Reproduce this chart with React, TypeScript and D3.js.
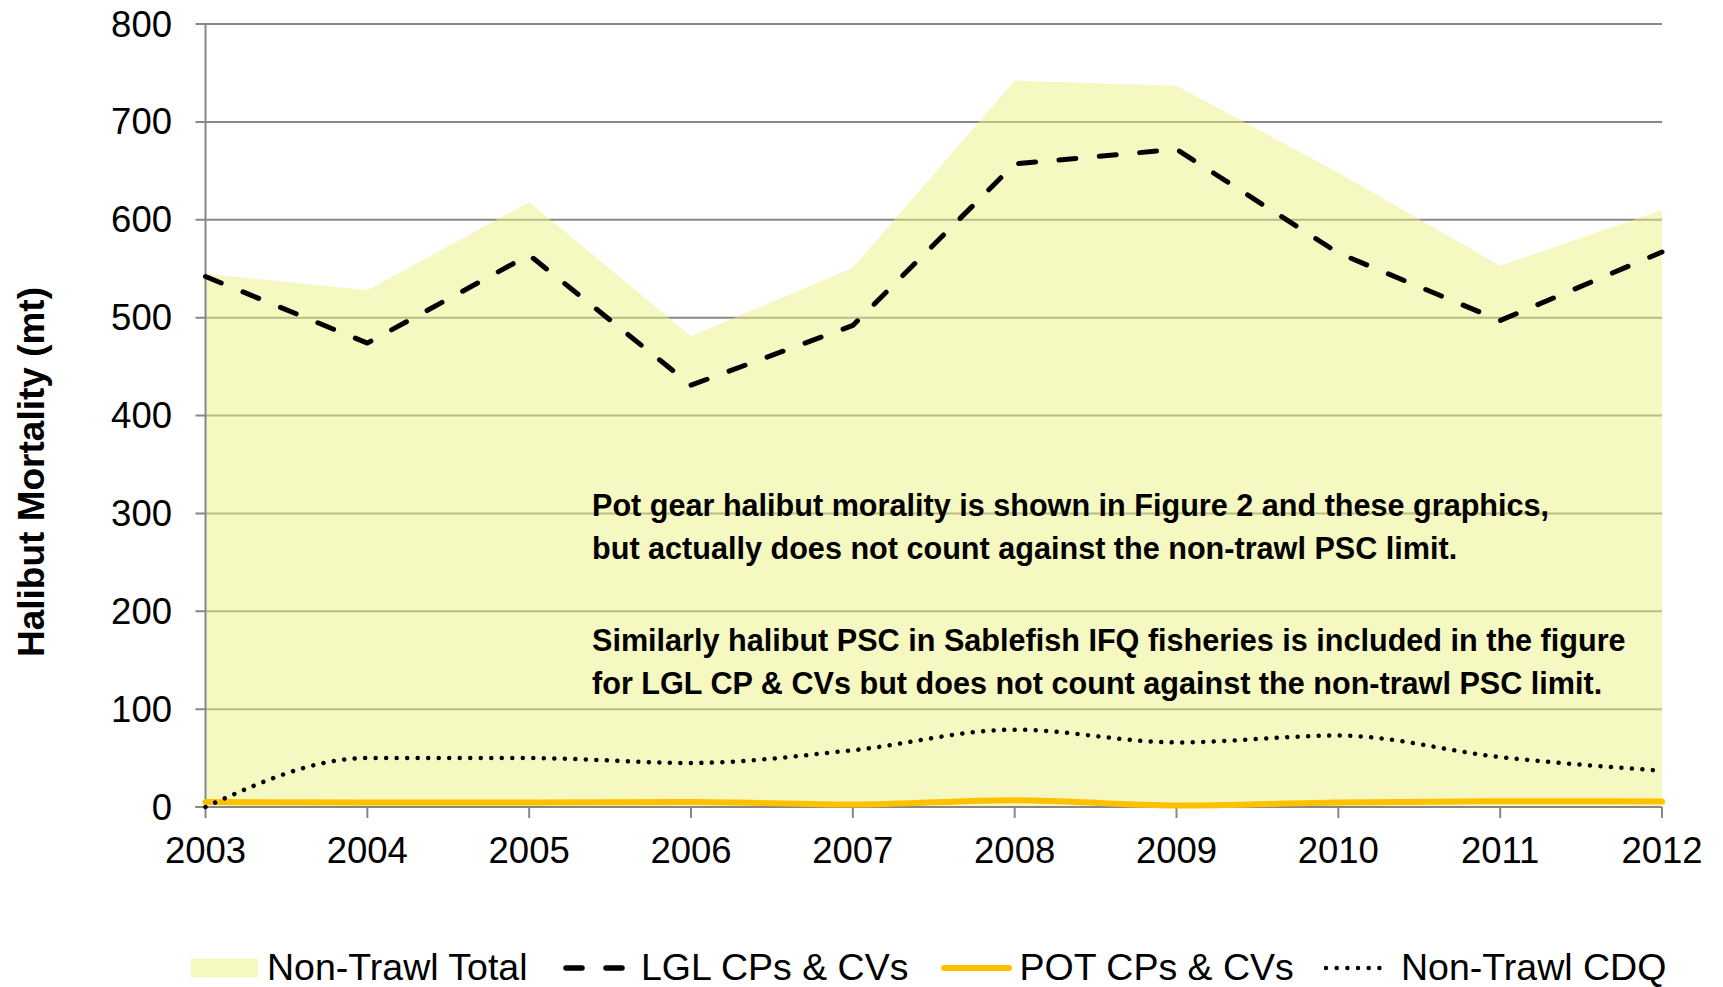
import React from 'react';
import * as d3 from 'd3';

// ---- data ----
const years = [2003, 2004, 2005, 2006, 2007, 2008, 2009, 2010, 2011, 2012];
const nonTrawlTotal = [545, 528, 618, 481, 551, 742, 737, 648, 553, 610];
const lglCPsCVs = [542, 474, 564, 431, 492, 657, 672, 566, 497, 567];
const potCPsCVs = [5, 4.5, 4.5, 5, 2.5, 7, 1.5, 4.5, 6, 5.5];
const nonTrawlCDQ = [0, 50, 50, 45, 58, 79, 66, 73, 51, 37];
const yTicks = [0, 100, 200, 300, 400, 500, 600, 700, 800];
const legendLabels = ['Non-Trawl Total', 'LGL CPs & CVs', 'POT CPs & CVs', 'Non-Trawl CDQ'];
const noteLines = [
  'Pot gear halibut morality is shown in Figure 2 and these graphics,',
  'but actually does not count against the non-trawl PSC limit.',
  'Similarly halibut PSC in Sablefish IFQ fisheries is included in the figure',
  'for LGL CP & CVs but does not count against the non-trawl PSC limit.',
];
const yTitle = 'Halibut Mortality (mt)';

const W = 1723;
const H = 987;
const FONT = '"Liberation Sans", Arial, Helvetica, sans-serif';
const AREA_FILL = 'rgb(235,242,130)';
const AREA_OPACITY = 0.5;
const GRID = '#878787';
const POT_COLOR = '#FFC000';

export default function App() {
  const x = d3.scalePoint<number>().domain(years).range([205.5, 1662]);
  const y = d3.scaleLinear().domain([0, 800]).range([807, 24]);

  const idx = years.map((_, i) => i);
  const area = d3
    .area<number>()
    .x((i) => x(years[i]) as number)
    .y0(y(0))
    .y1((i) => y(nonTrawlTotal[i]));
  const straight = (vals: number[]) =>
    d3
      .line<number>()
      .x((i) => x(years[i]) as number)
      .y((i) => y(vals[i]))(idx) as string;
  const smooth = (vals: number[]) =>
    d3
      .line<number>()
      .curve(d3.curveMonotoneX)
      .x((i) => x(years[i]) as number)
      .y((i) => y(vals[i]))(idx) as string;

  const x0 = x(years[0]) as number;
  const x1 = x(years[years.length - 1]) as number;

  const noteY = [516, 559, 651, 694];
  const legendY = 968;
  const legendBase = 980;
  const LF = 37.5;

  return (
    <svg
      width={W}
      height={H}
      style={{ position: 'absolute', left: 0, top: 0, background: '#fff' }}
      fontFamily={FONT}
    >
      {/* gridlines */}
      {yTicks.map((t) => (
        <line key={'g' + t} x1={x0 - 10} x2={x1} y1={y(t)} y2={y(t)} stroke={GRID} strokeWidth={2} />
      ))}
      {/* area */}
      <path d={area(idx) as string} fill={AREA_FILL} fillOpacity={AREA_OPACITY} />
      {/* axes */}
      <line x1={x0} x2={x0} y1={y(800)} y2={y(0)} stroke={GRID} strokeWidth={2} />
      <line x1={x0 - 10} x2={x1} y1={y(0)} y2={y(0)} stroke={GRID} strokeWidth={2} />
      {years.map((yr) => (
        <line
          key={'xt' + yr}
          x1={x(yr) as number}
          x2={x(yr) as number}
          y1={y(0)}
          y2={y(0) + 11}
          stroke={GRID}
          strokeWidth={2}
        />
      ))}
      {/* y tick labels */}
      {yTicks.map((t) => (
        <text key={'yl' + t} x={172} y={y(t) + 12.5} textAnchor="end" fontSize={36.5} fill="#000">
          {t}
        </text>
      ))}
      {/* x tick labels */}
      {years.map((yr) => (
        <text key={'xl' + yr} x={x(yr) as number} y={863} textAnchor="middle" fontSize={36.5} fill="#000">
          {yr}
        </text>
      ))}
      {/* y title */}
      <text
        transform={`translate(44,${472}) rotate(-90)`}
        textAnchor="middle"
        fontSize={37}
        fontWeight="bold"
        fill="#000"
      >
        {yTitle}
      </text>

      {/* series */}
      <path d={smooth(potCPsCVs)} fill="none" stroke={POT_COLOR} strokeWidth={6} strokeLinecap="round" />
      <path
        d={smooth(nonTrawlCDQ)}
        fill="none"
        stroke="#000"
        strokeWidth={4.5}
        strokeLinecap="round"
        strokeDasharray="0.01 10.5"
      />
      <path
        d={straight(lglCPsCVs)}
        fill="none"
        stroke="#000"
        strokeWidth={5}
        strokeLinecap="round"
        strokeLinejoin="round"
        strokeDasharray="17 23.5"
      />

      {/* annotation */}
      {noteLines.map((s, i) => (
        <text key={'n' + i} x={592} y={noteY[i]} fontSize={30.6} fontWeight="bold" fill="#000">
          {s}
        </text>
      ))}

      {/* legend */}
      <rect x={191} y={legendY - 9.5} width={67} height={19} fill={AREA_FILL} fillOpacity={AREA_OPACITY} />
      <text x={267} y={legendBase} fontSize={LF} fill="#000">{legendLabels[0]}</text>

      <line x1={566} x2={624} y1={legendY} y2={legendY} stroke="#000" strokeWidth={5.5} strokeLinecap="round" strokeDasharray="16 24" />
      <text x={641} y={legendBase} fontSize={LF} fill="#000">{legendLabels[1]}</text>

      <line x1={944} x2={1009} y1={legendY} y2={legendY} stroke={POT_COLOR} strokeWidth={6} strokeLinecap="round" />
      <text x={1019.5} y={legendBase} fontSize={LF} fill="#000">{legendLabels[2]}</text>

      <line x1={1326} x2={1390} y1={legendY} y2={legendY} stroke="#000" strokeWidth={4.5} strokeLinecap="round" strokeDasharray="0.01 10.66" />
      <text x={1401} y={legendBase} fontSize={LF} fill="#000">{legendLabels[3]}</text>
    </svg>
  );
}
